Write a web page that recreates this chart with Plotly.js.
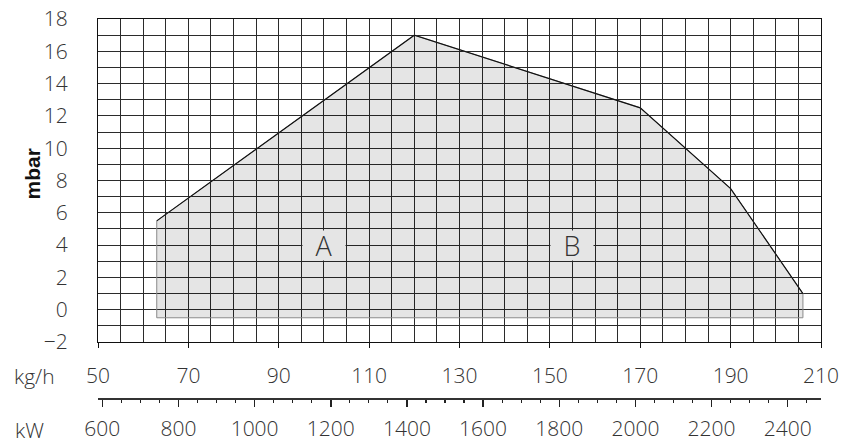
<!DOCTYPE html>
<html>
<head>
<meta charset="utf-8">
<script src="https://cdn.plot.ly/plotly-3.0.1.min.js"></script>
<style>html,body{margin:0;padding:0;background:#fff;}#chart{width:844px;height:445px;}</style>
</head>
<body>
<div id="chart"></div>
<script>
// Working field polygon (kg/h vs mbar)
const fieldKgh  = [63, 63, 120, 170, 190, 206, 206, 63];
const fieldMbar = [-0.5, 5.5, 17, 12.5, 7.5, 1, -0.5, -0.5];
// Upper (black) boundary of the field
const topKgh  = [63, 120, 170, 190, 206];
const topMbar = [5.5, 17, 12.5, 7.5, 1];
// Region labels
const regionLabels = ["A", "B"];
const regionKgh    = [100, 155];
const regionMbar   = [4, 4];
// Axis ranges
const kghRange  = [50, 210];
const mbarRange = [-2, 18];
const kwRange   = [588.7, 2487.4];

const tickFont = {family: "Open Sans, Liberation Sans, Arial, sans-serif", size: 21, color: "#333", weight: 300};
const gridCol = "#2b2b2b";

// pixel -> paper helpers (plot area: x 98..821, y 19..398)
const px = p => (p - 98) / 723;
const py = p => (398 - p) / 379;

const traces = [
  {
    x: fieldKgh, y: fieldMbar, type: "scatter", mode: "lines",
    fill: "toself", fillcolor: "rgba(0,0,0,0.1)",
    line: {color: "#8a8a8a", width: 1},
    hoverinfo: "skip", showlegend: false
  },
  {
    x: topKgh, y: topMbar, type: "scatter", mode: "lines",
    line: {color: "#111", width: 1.2},
    hoverinfo: "skip", showlegend: false
  },
  {
    x: kwRange, y: [null, null], xaxis: "x2", yaxis: "y",
    type: "scatter", mode: "lines", hoverinfo: "skip", showlegend: false
  }
];

const annotations = regionLabels.map((t, i) => ({
  text: t, x: regionKgh[i], y: regionMbar[i], xref: "x", yref: "y",
  showarrow: false, bgcolor: "rgb(229,229,229)", width: 42, height: 29,
  borderpad: 0, font: {family: "Open Sans, Liberation Sans, Arial, sans-serif", size: 27, color: "#333", weight: 300}
}));
annotations.push(
  {text: "<b>mbar</b>", textangle: -90, xref: "paper", yref: "paper", x: px(18), y: py(174),
   showarrow: false, font: {family: "Liberation Sans, Arial, sans-serif", size: 21, color: "#111"}},
  {text: "kg/h", xref: "paper", yref: "paper", x: px(12), y: py(376), xanchor: "left", yanchor: "middle",
   showarrow: false, font: tickFont},
  {text: "kW", xref: "paper", yref: "paper", x: px(13), y: py(430), xanchor: "left", yanchor: "middle",
   showarrow: false, font: tickFont}
);

const layout = {
  width: 844, height: 445,
  margin: {l: 98, r: 23, t: 19, b: 47, pad: 0},
  paper_bgcolor: "#fff", plot_bgcolor: "#fff",
  showlegend: false,
  xaxis: {
    range: kghRange, tick0: 50, dtick: 20, anchor: "y",
    showgrid: true, gridcolor: gridCol, gridwidth: 1,
    minor: {dtick: 5, showgrid: true, gridcolor: gridCol, gridwidth: 1},
    ticks: "outside", ticklen: 5, tickcolor: "#111", tickwidth: 1,
    ticklabelstandoff: 10,
    showline: true, linecolor: "#111", linewidth: 1, mirror: true,
    zeroline: false, tickfont: tickFont
  },
  xaxis2: {
    range: kwRange, overlaying: "x", anchor: "free", position: 0, side: "bottom",
    tick0: 600, dtick: 200, showgrid: false, zeroline: false,
    ticks: "outside", ticklen: 7, tickcolor: "#222", tickwidth: 1.5,
    minor: {dtick: 50, ticks: "outside", ticklen: 3, tickcolor: "#222", tickwidth: 1.2, showgrid: false},
    ticklabelstandoff: 4,
    showline: true, linecolor: "#333", linewidth: 1.5,
    tickfont: tickFont
  },
  yaxis: {
    range: mbarRange, domain: [56 / 379, 1], tick0: 0, dtick: 2,
    showgrid: true, gridcolor: gridCol, gridwidth: 1,
    minor: {dtick: 1, showgrid: true, gridcolor: gridCol, gridwidth: 1},
    ticks: "", ticklabelstandoff: 25,
    showline: true, linecolor: "#111", linewidth: 1, mirror: true,
    zeroline: false, tickfont: tickFont
  },
  annotations: annotations
};

Plotly.newPlot("chart", traces, layout, {staticPlot: true, displayModeBar: false});
</script>
</body>
</html>
